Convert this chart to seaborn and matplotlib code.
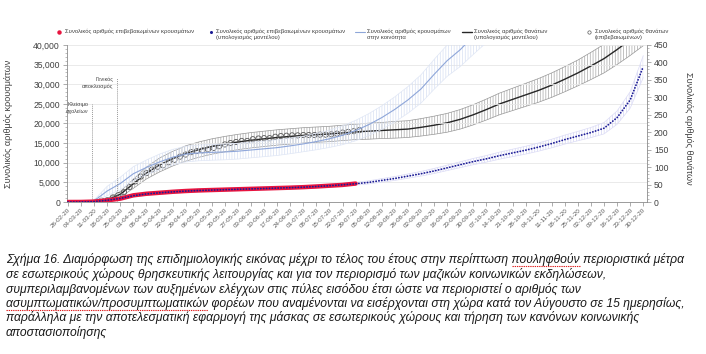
import numpy as np
import pandas as pd
import matplotlib
matplotlib.use("Agg")
import matplotlib.pyplot as plt
import matplotlib.dates as mdates
from matplotlib.lines import Line2D
from matplotlib.ticker import MultipleLocator, FuncFormatter
import seaborn as sns

nan = np.nan

# weekly points 26-02-20 ... 30-12-20 (also the x tick labels)
week_dates = pd.date_range("2020-02-26", "2020-12-30", freq="7D")

# confirmed cases (red)
confirmed_cases = [0, 10, 100, 420, 850, 1700, 2100, 2350, 2600, 2800, 2950, 3050,
                   3150, 3250, 3350, 3450, 3550, 3650, 3780, 3950, 4150, 4350, 4700] + [nan] * 22

# model estimate of confirmed cases (navy dots) and its error bar half-width
model_cases = [0, 10, 100, 450, 900, 1600, 2050, 2350, 2580, 2780, 2930, 3040,
               3140, 3240, 3340, 3440, 3550, 3650, 3780, 3950, 4150, 4380, 4650,
               5000, 5500, 6000, 6600, 7200, 7900, 8700, 9500, 10300, 11000, 11800,
               12500, 13200, 14000, 14900, 15900, 16800, 17700, 18800, 21500, 26000, 34500]
model_cases_err = [0, 0, 50, 150, 250, 300] + [350] * 17 + \
                  [400, 450, 500, 550, 600, 650, 700, 750, 800, 850, 900, 950, 1000,
                   1050, 1100, 1150, 1200, 1300, 1450, 1700, 2100, 2800]

# cases in the community (light blue line) and band half-width
community_cases = [0, 0, 300, 2800, 4700, 7200, 8800, 10200, 11400, 12200, 12500, 12650,
                   12750, 12950, 13250, 13550, 13850, 14300, 14800, 15400, 16100, 17000,
                   18200, 19700, 21500, 23600, 26000, 28800, 32500, 36000, 38800, 42200,
                   45500] + [nan] * 12
community_err = [0, 0, 200, 1200, 1600, 1800, 1900] + [2000] * 12 + \
                [2100, 2200, 2400, 2600, 2800, 3000, 3200, 3400, 3600, 3800, 4000, 4300,
                 4600, 4900] + [nan] * 12

# model estimate of deaths (black line, right axis) and band half-width
model_deaths = [0, 0, 1, 6, 22, 52, 83, 106, 124, 139, 150, 159, 166, 172, 177, 181,
                185, 188, 191, 193, 195, 198, 201, 203, 205, 207, 209, 214, 220, 227,
                237, 250, 265, 281, 294, 307, 320, 335, 352, 370, 390, 411, 437, 465, 495]
model_deaths_err = [0, 0, 1, 4, 8, 13, 17, 20, 21, 22] + [22] * 13 + \
                   [23, 23, 24, 24, 25, 26, 27, 28, 29, 30, 31, 32, 33, 34, 35, 36,
                    37, 39, 41, 43, 45, 47]

# confirmed deaths (open circles, right axis), every 3 days from 12-03-20
death_dates = pd.date_range("2020-03-12", periods=48, freq="3D")
confirmed_deaths = [1, 4, 5, 13, 20, 28, 43, 59, 73, 83, 93, 101, 105, 114, 121, 130,
                    136, 143, 146, 148, 151, 155, 160, 165, 169, 172, 175, 175, 180, 182,
                    183, 183, 187, 189, 190, 191, 191, 192, 192, 192, 193, 193, 194, 196,
                    199, 201, 203, 206]

# measures marked on the chart
event_dates = pd.to_datetime(["2020-03-10", "2020-03-23"])
event_tops = [25000, 31500]
event_labels = ["Κλείσιμο\nσχολείων", "Γενικός\nαποκλεισμός"]

caption = [
    "Σχήμα 16. Διαμόρφωση της επιδημιολογικής εικόνας μέχρι το τέλος του έτους στην περίπτωση πουληφθούν περιοριστικά μέτρα",
    "σε εσωτερικούς χώρους θρησκευτικής λειτουργίας και για τον περιορισμό των μαζικών κοινωνικών εκδηλώσεων,",
    "συμπεριλαμβανομένων των αυξημένων ελέγχων στις πύλες εισόδου έτσι ώστε να περιοριστεί ο αριθμός των",
    "ασυμπτωματικών/προσυμπτωματικών φορέων που αναμένονται να εισέρχονται στη χώρα κατά τον Αύγουστο σε 15 ημερησίως,",
    "παράλληλα με την αποτελεσματική εφαρμογή της μάσκας σε εσωτερικούς χώρους και τήρηση των κανόνων κοινωνικής",
    "αποστασιοποίησης",
]
# words flagged by the spell checker: (caption line, word)
flagged = [(0, "πουληφθούν"), (3, "ασυμπτωματικών/προσυμπτωματικών")]

df = pd.DataFrame({
    "date": week_dates,
    "confirmed": confirmed_cases,
    "model": model_cases,
    "model_err": model_cases_err,
    "community": community_cases,
    "community_err": community_err,
    "deaths": model_deaths,
    "deaths_err": model_deaths_err,
})
deaths_df = pd.DataFrame({"date": death_dates, "deaths": confirmed_deaths})

sns.set_theme(style="white")
plt.rcParams["font.family"] = ["Liberation Sans", "DejaVu Sans"]
plt.rcParams["hatch.linewidth"] = 0.5

W, H = 706, 354
fig = plt.figure(figsize=(W / 100, H / 100), dpi=100)
ax = fig.add_axes([67 / W, 1 - 202 / H, 580 / W, 157 / H])
ax2 = ax.twinx()
ax.set_zorder(ax2.get_zorder() + 1)
ax.patch.set_visible(False)

C_RED = "#e8143f"
C_NAVY = "#1d1d96"
C_COMM = "#8ea6d9"
C_BLACK = "#262626"
C_GREY = "#5a5a5a"


def band(axis, lo, hi, color, edge):
    axis.fill_between(df["date"], lo, hi, facecolor="none", edgecolor=color,
                      hatch="||||||", lw=0, zorder=1)
    axis.plot(df["date"], lo, color=edge, lw=0.5, zorder=1)
    axis.plot(df["date"], hi, color=edge, lw=0.5, zorder=1)


# deaths on the right axis
band(ax2, df["deaths"] - df["deaths_err"], df["deaths"] + df["deaths_err"], "#a8a8a8", "#969696")
sns.lineplot(data=df, x="date", y="deaths", ax=ax2, color=C_BLACK, lw=1.0, zorder=3)
sns.scatterplot(data=deaths_df, x="date", y="deaths", ax=ax2, marker="o", s=14,
                facecolors="none", edgecolor=C_GREY, linewidth=0.6, zorder=4)

# cases on the left axis
band(ax, df["community"] - df["community_err"], df["community"] + df["community_err"], "#d7e0f3", "#dfe6f5")
sns.lineplot(data=df, x="date", y="community", ax=ax, color=C_COMM, lw=0.8, zorder=2)
band(ax, df["model"] - df["model_err"], df["model"] + df["model_err"], "#d3d3f3", "#dcdcf6")
sns.lineplot(data=df, x="date", y="confirmed", ax=ax, color=C_RED, lw=3.2, zorder=4,
             solid_capstyle="round")
sns.lineplot(data=df, x="date", y="model", ax=ax, color=C_NAVY, lw=1.3, zorder=5,
             linestyle=(0, (0.1, 1.5)), dash_capstyle="round")

ax.vlines(event_dates, 0, event_tops, colors="#9a9a9a", linestyles=(0, (1, 1)), lw=0.7, zorder=2)
for d, top, lab in zip(event_dates, event_tops, event_labels):
    ax.annotate(lab, xy=(d, top), xytext=(-2.5, 1), textcoords="offset points",
                ha="right", va="top", fontsize=4.0, color="#404040", linespacing=1.5)

# axes cosmetics
ax.set_xlim(pd.Timestamp("2020-02-25 12:00"), pd.Timestamp("2021-01-01"))
ax.set_ylim(0, 40000)
ax2.set_ylim(0, 450)
ax.set_xticks(week_dates)
ax.xaxis.set_major_formatter(mdates.DateFormatter("%d-%m-%y"))
ax.yaxis.set_major_locator(MultipleLocator(5000))
ax.yaxis.set_minor_locator(MultipleLocator(1000))
ax.yaxis.set_major_formatter(FuncFormatter(lambda v, p: f"{v:,.0f}"))
ax2.yaxis.set_major_locator(MultipleLocator(50))
ax2.yaxis.set_minor_locator(MultipleLocator(10))

ax.grid(axis="y", color="#e6e6e6", lw=0.6)
ax.grid(axis="x", visible=False)
ax2.grid(False)
ax.set_axisbelow(True)

for s in ["top", "right"]:
    ax.spines[s].set_visible(False)
for s in ["top", "left", "bottom"]:
    ax2.spines[s].set_visible(False)
for sp in [ax.spines["left"], ax.spines["bottom"], ax2.spines["right"]]:
    sp.set_color("#8c8c8c")
    sp.set_linewidth(0.6)

ax.tick_params(axis="y", which="major", left=True, length=3, width=0.5, color="#8c8c8c",
               labelsize=6.2, labelcolor="#404040", pad=2)
ax.tick_params(axis="y", which="minor", left=True, length=1.5, width=0.4, color="#8c8c8c")
ax2.tick_params(axis="y", which="major", right=True, length=3, width=0.5, color="#8c8c8c",
                labelsize=6.2, labelcolor="#404040", pad=2)
ax2.tick_params(axis="y", which="minor", right=True, length=1.5, width=0.4, color="#8c8c8c")
ax.tick_params(axis="x", bottom=True, length=3, width=0.5, color="#8c8c8c",
               labelsize=4.5, labelcolor="#595959", pad=1)
for t in ax.get_xticklabels():
    t.set_rotation(45)
    t.set_ha("right")
    t.set_rotation_mode("anchor")

ax.set_xlabel("")
ax.set_ylabel("Συνολικός αριθμός κρουσμάτων", fontsize=6.5, color="#404040")
ax.yaxis.set_label_coords(-0.093, 0.5)
ax2.set_ylabel("Συνολικός αριθμός θανάτων", fontsize=6.5, color="#404040", rotation=270, va="center")
ax2.yaxis.set_label_coords(1.071, 0.47)


# legend along the top, laid out like the original
def fx(px):
    return px / W


def fy(py):
    return 1 - py / H


leg_y = 32
fig.add_artist(Line2D([fx(59)], [fy(leg_y)], marker="o", ms=2.2, color=C_RED, lw=0))
fig.add_artist(Line2D([fx(211)], [fy(leg_y)], marker="o", ms=1.2, color=C_NAVY, lw=0))
fig.add_artist(Line2D([fx(355), fx(365)], [fy(leg_y)] * 2, color=C_COMM, lw=0.8))
fig.add_artist(Line2D([fx(462), fx(472)], [fy(leg_y)] * 2, color=C_BLACK, lw=1.0))
fig.add_artist(Line2D([fx(589)], [fy(leg_y)], marker="o", ms=2.4, mfc="none", mec=C_GREY,
                      mew=0.5, lw=0))
leg_text = [
    (65, "Συνολικός αριθμός επιβεβαιωμένων κρουσμάτων"),
    (216, "Συνολικός αριθμός επιβεβαιωμένων κρουσμάτων\n(υπολογισμός μοντέλου)"),
    (367, "Συνολικός αριθμός κρουσμάτων\nστην κοινότητα"),
    (474, "Συνολικός αριθμός θανάτων\n(υπολογισμός μοντέλου)"),
    (595, "Συνολικός αριθμός θανάτων\n(επιβεβαιωμένων)"),
]
for x, t in leg_text:
    fig.text(fx(x), fy(leg_y - 3.5), t, fontsize=4.2, color="#404040", va="top", ha="left",
             linespacing=1.25)

# caption under the chart
CAP_FS = 8.7
cap_x = 6
cap_base = [263.5 + 14.5 * i for i in range(len(caption))]
for y, line in zip(cap_base, caption):
    fig.text(fx(cap_x), fy(y), line, fontsize=CAP_FS, style="italic",
             color="#1a1a1a", va="baseline", ha="left")

# spell-check underline under the flagged words
renderer = fig.canvas.get_renderer()


def text_px(s):
    t = fig.text(0, 0, s, fontsize=CAP_FS, style="italic")
    w = t.get_window_extent(renderer).width
    t.remove()
    return w


for i, word in flagged:
    prefix = caption[i].split(word)[0]
    x0 = cap_x + (text_px(prefix + "x") - text_px("x"))
    x1 = x0 + text_px(word)
    fig.add_artist(Line2D([fx(x0), fx(x1)], [fy(cap_base[i] + 2.5)] * 2, color="#e02020",
                          lw=0.8, linestyle=(0, (1.2, 0.8))))

fig.savefig("out.png", dpi=100)
